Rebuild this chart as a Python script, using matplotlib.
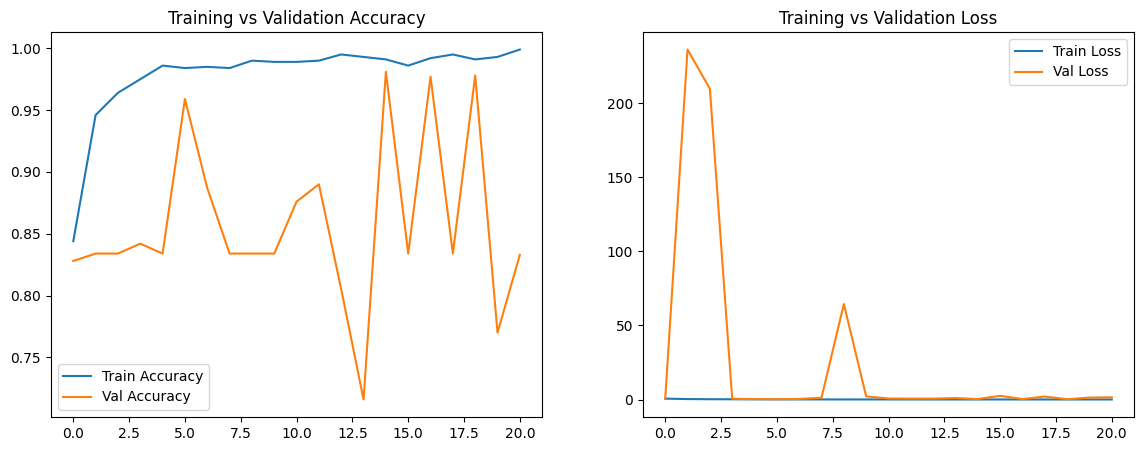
import matplotlib
matplotlib.use("Agg")
import matplotlib.pyplot as plt

# epochs
epochs = list(range(21))

# 정확도
train_acc = [0.844, 0.946, 0.964, 0.975, 0.986, 0.984, 0.985, 0.984, 0.990, 0.989,
             0.989, 0.990, 0.995, 0.993, 0.991, 0.986, 0.992, 0.995, 0.991, 0.993, 0.999]
val_acc = [0.828, 0.834, 0.834, 0.842, 0.834, 0.959, 0.887, 0.834, 0.834, 0.834,
           0.876, 0.890, 0.805, 0.716, 0.981, 0.834, 0.977, 0.834, 0.978, 0.770, 0.833]

# 손실
train_loss = [0.6, 0.3, 0.2, 0.15, 0.1, 0.08, 0.06, 0.05, 0.04, 0.04,
              0.03, 0.03, 0.02, 0.02, 0.02, 0.03, 0.02, 0.02, 0.02, 0.02, 0.01]
val_loss = [0.5, 236.4, 209.9, 0.5, 0.3, 0.2, 0.4, 1.2, 64.5, 2.1,
            0.7, 0.6, 0.6, 1.0, 0.3, 2.5, 0.3, 2.0, 0.2, 1.3, 1.5]

fig, axes = plt.subplots(1, 2, figsize=(11.45, 4.51), dpi=100)

ax = axes[0]
ax.plot(epochs, train_acc, label="Train Accuracy")
ax.plot(epochs, val_acc, label="Val Accuracy")
ax.set_title("Training vs Validation Accuracy")
ax.legend()

ax = axes[1]
ax.plot(epochs, train_loss, label="Train Loss")
ax.plot(epochs, val_loss, label="Val Loss")
ax.set_title("Training vs Validation Loss")
ax.legend()

plt.subplots_adjust(left=0.0445, right=0.9905, top=0.929, bottom=0.0754, wspace=0.205)

plt.savefig("out.png")
